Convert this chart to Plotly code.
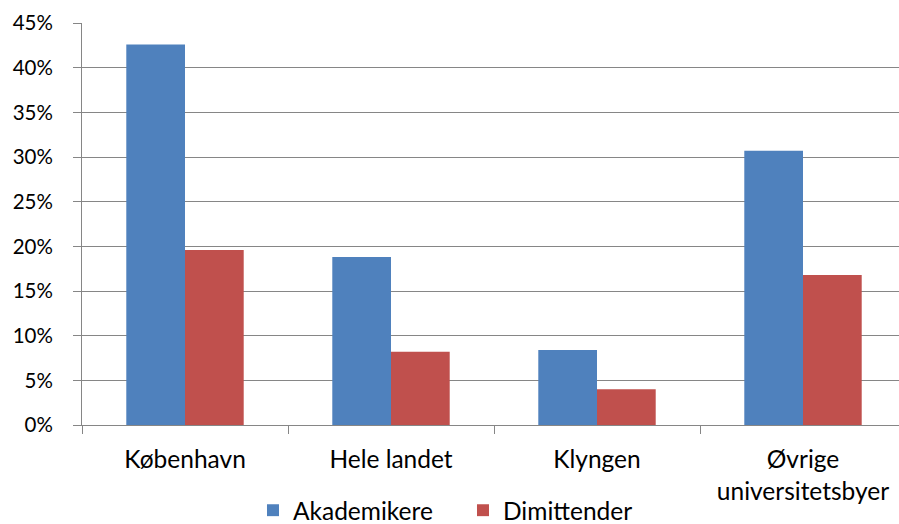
import plotly.graph_objects as go

categories = ["København", "Hele landet", "Klyngen", "Øvrige<br>universitetsbyer"]
akademikere = [0.426, 0.188, 0.084, 0.307]
dimittender = [0.196, 0.082, 0.040, 0.168]
y_ticks = [0, 0.05, 0.10, 0.15, 0.20, 0.25, 0.30, 0.35, 0.40, 0.45]
y_tick_labels = ["0%", "5%", "10%", "15%", "20%", "25%", "30%", "35%", "40%", "45%"]

FONT = "Lato"
GRID = "#868686"
FS_X = 24.5
FS_Y = 20.5

fig = go.Figure()
fig.add_trace(go.Bar(name="Akademikere", x=categories, y=akademikere,
                     marker=dict(color="#4F81BD", line=dict(width=0))))
fig.add_trace(go.Bar(name="Dimittender", x=categories, y=dimittender,
                     marker=dict(color="#C0504D", line=dict(width=0))))

fig.update_layout(
    width=899, height=524,
    margin=dict(l=82, r=0, t=23, b=99, autoexpand=False),
    paper_bgcolor="white", plot_bgcolor="white",
    barmode="group", bargap=0.43, bargroupgap=0,
    font=dict(family=FONT, size=FS_X, color="black"),
    showlegend=True,
    legend=dict(orientation="h", xref="container", yref="paper",
                x=0.515, xanchor="center", y=-0.212, yanchor="middle",
                font=dict(family=FONT, size=FS_X), itemwidth=30,
                entrywidth=165, traceorder="normal"),
    xaxis=dict(range=[-0.5, 3.466], showgrid=False, showline=True,
               linecolor=GRID, linewidth=1, ticks="outside", ticklen=8,
               tickcolor=GRID, tickson="boundaries", ticklabelstandoff=13,
               automargin=False, tickfont=dict(family=FONT, size=FS_X)),
    yaxis=dict(range=[0, 0.45], tickvals=y_ticks, ticktext=y_tick_labels,
               showgrid=True, gridcolor=GRID, gridwidth=1,
               showline=True, linecolor=GRID, linewidth=1,
               ticks="outside", ticklen=8, tickcolor=GRID,
               ticklabelstandoff=16, zeroline=False, automargin=False,
               tickfont=dict(family=FONT, size=FS_Y)),
)

post = ("document.body.style.margin='0px';"
        "document.body.style.overflow='hidden';"
        "var gd=document.getElementById('{plot_id}');"
        "Plotly.relayout(gd,{width:899,height:524});")
fig.write_html("out.html", post_script=post,
               config={"displayModeBar": False})
